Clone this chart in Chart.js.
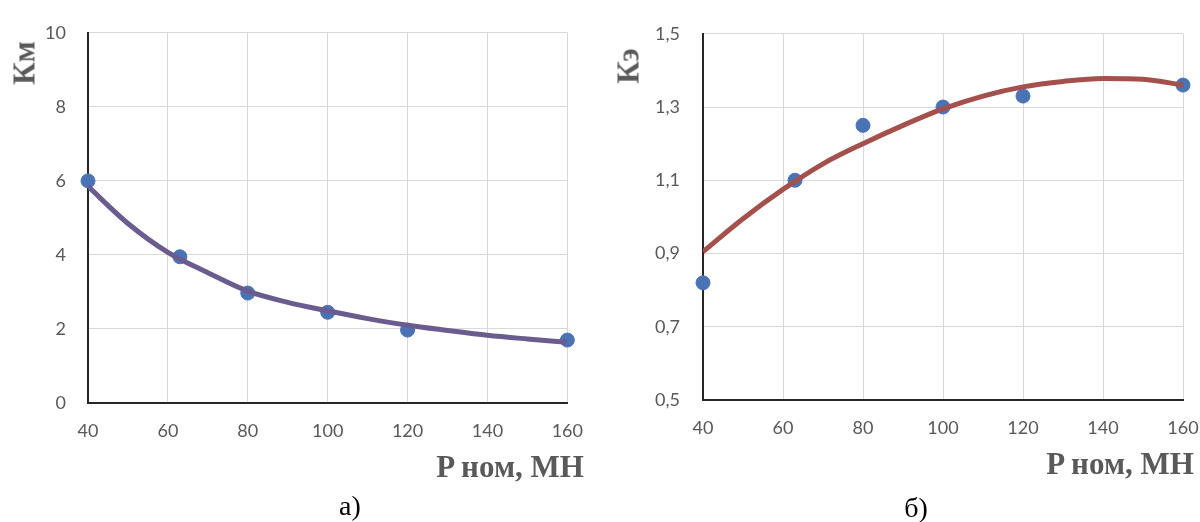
<!DOCTYPE html>
<html>
<head>
<meta charset="utf-8">
<script src="https://cdn.jsdelivr.net/npm/chart.js@4.4.1/dist/chart.umd.min.js"></script>
<style>
  html, body { margin: 0; padding: 0; background: #ffffff; }
  body { width: 1200px; height: 522px; position: relative; overflow: hidden; }
  .panel { position: absolute; top: 0; height: 522px; }
  .t { position: absolute; font-family: "Liberation Serif", "Times New Roman", serif; white-space: nowrap; }
  .axt { font-weight: bold; color: #595959; font-size: 31px; line-height: 1; }
  .cap { color: #000000; font-size: 28px; line-height: 1; }
  .rot { transform: translate(-50%, -50%) rotate(-90deg); }
  .ctr { transform: translate(-50%, -50%); }
</style>
</head>
<body>
<div class="panel" style="left:0px; width:600px;"><canvas id="cA" width="600" height="522"></canvas></div>
<div class="panel" style="left:600px; width:640px;"><canvas id="cB" width="640" height="522"></canvas></div>

<div class="t axt rot" style="left:24px; top:63px;">Км</div>
<div class="t axt ctr" style="left:510px; top:466px;">P ном, МН</div>
<div class="t cap ctr" style="left:350px; top:506px;">а)</div>

<div class="t axt rot" style="left:628px; top:66px;">Кэ</div>
<div class="t axt ctr" style="left:1120px; top:463px;">P ном, МН</div>
<div class="t cap ctr" style="left:916px; top:508px;">б)</div>

<script>
// ---- data ----
const pressForce = [40, 63, 80, 100, 120, 160];           // P ном, МН
const kmValues   = [6.0, 3.95, 2.97, 2.45, 1.97, 1.70];    // Км (points)
const keValues   = [0.82, 1.10, 1.25, 1.30, 1.33, 1.36];   // Кэ (points)

const trendX     = [40, 50, 60, 70, 80, 90, 100, 110, 120, 130, 140, 150, 160];
const kmTrend    = [5.85, 4.85, 4.07, 3.52, 3.02, 2.72, 2.49, 2.28, 2.10, 1.96, 1.83, 1.73, 1.64];
const keTrend    = [0.905, 0.995, 1.075, 1.145, 1.20, 1.25, 1.295, 1.33, 1.355, 1.37, 1.378, 1.376, 1.36];

const xTickLabels  = ['40', '60', '80', '100', '120', '140', '160'];
const kmTickLabels = ['0', '2', '4', '6', '8', '10'];
const keTickLabels = ['0,5', '0,7', '0,9', '1,1', '1,3', '1,5'];

// ---- styling ----
const tickFont = { family: 'Lato, "Open Sans", sans-serif', size: 18 };
const tickColor = '#595959';
const gridColor = '#d9d9d9';
const axisColor = '#262626';
const pointColor = '#4a73b5';

function pairs(xs, ys) { return xs.map((x, i) => ({ x: x, y: ys[i] })); }

function makeChart(id, pts, trend, lineColor, yMin, yMax, yStep, yLabels, box) {
  return new Chart(document.getElementById(id), {
    type: 'scatter',
    data: {
      datasets: [
        {
          type: 'line',
          data: pairs(trendX, trend),
          borderColor: lineColor,
          borderWidth: 5,
          pointRadius: 0,
          fill: false,
          tension: 0.4,
          cubicInterpolationMode: 'monotone',
          order: 1
        },
        {
          type: 'scatter',
          data: pairs(pressForce, pts),
          backgroundColor: pointColor,
          borderColor: pointColor,
          pointRadius: 7,
          pointHoverRadius: 7,
          clip: false,
          order: 2
        }
      ]
    },
    options: {
      responsive: false,
      animation: false,
      events: [],
      layout: { padding: { top: box.top, right: box.right, left: 0, bottom: 0 } },
      plugins: { legend: { display: false }, tooltip: { enabled: false } },
      scales: {
        x: {
          type: 'linear',
          min: 40, max: 160,
          afterFit: (s) => { s.height = box.xh; },
          ticks: {
            stepSize: 20,
            font: tickFont, color: tickColor, padding: 17,
            maxRotation: 0,
            callback: (v) => { const i = (v - 40) / 20; return xTickLabels[i] !== undefined ? xTickLabels[i] : ''; }
          },
          grid: {
            drawTicks: false,
            color: (c) => c.index === 0 ? 'rgba(0,0,0,0)' : gridColor,
            lineWidth: 1
          },
          border: { display: true, color: axisColor, width: 2 }
        },
        y: {
          type: 'linear',
          min: yMin, max: yMax,
          afterFit: (s) => { s.width = box.yw; },
          ticks: {
            stepSize: yStep,
            font: tickFont, color: tickColor, padding: box.ypad,
            callback: (v) => { const i = Math.round((v - yMin) / yStep); return yLabels[i] !== undefined ? yLabels[i] : ''; }
          },
          grid: {
            drawTicks: false,
            color: (c) => c.index === 0 ? 'rgba(0,0,0,0)' : gridColor,
            lineWidth: 1
          },
          border: { display: true, color: axisColor, width: 2 }
        }
      }
    }
  });
}

makeChart('cA', kmValues, kmTrend, '#6a5c8e', 0, 10, 2, kmTickLabels,
  { top: 23, right: 32, xh: 119, yw: 88, ypad: 22 });
makeChart('cB', keValues, keTrend, '#a4504d', 0.5, 1.5, 0.2, keTickLabels,
  { top: 29, right: 57, xh: 122, yw: 103, ypad: 23 });
</script>
</body>
</html>
